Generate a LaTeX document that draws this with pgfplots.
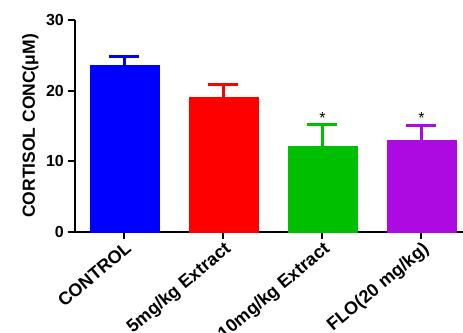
\documentclass[border=0pt]{standalone}
\usepackage{pgfplots}
\pgfplotsset{compat=1.18}
\usepackage{fontspec}
\setmainfont{Liberation Sans}
\definecolor{cblue}{RGB}{0,0,255}
\definecolor{cred}{RGB}{255,0,0}
\definecolor{cgreen}{RGB}{0,190,0}
\definecolor{cpurple}{RGB}{172,10,224}
\begin{document}
\begin{tikzpicture}
\begin{axis}[
 at={(0,0)}, anchor=south west,
 scale only axis, width=388pt, height=212pt,
 xmin=-0.5, xmax=3.42, ymin=0, ymax=30,
 axis x line*=bottom, axis y line*=left,
 axis line style={line width=2.2pt},
 ytick={0,10,20,30},
 xtick={0,1,2,3},
 xticklabels={CONTROL, 5mg/kg Extract, 10mg/kg Extract, FLO(20 mg/kg)},
 x tick label style={rotate=40, anchor=north east, font=\fontsize{18}{18}\selectfont\bfseries, inner sep=1pt},
 y tick label style={font=\fontsize{16}{16}\selectfont\bfseries, inner sep=4pt},
 /pgf/number format/assume math mode=true,
 tick style={line width=2pt, black},
 tick align=outside, major tick length=7pt,
 ylabel={CORTISOL CONC(μM)},
 ylabel style={font=\fontsize{17.5}{17.5}\selectfont\bfseries},
 clip=false,
]
\addplot[ybar, bar width=69pt, bar shift=0pt, fill=cblue, draw=cblue,
  error bars/.cd, y dir=plus, y explicit,
  error bar style={line width=3pt, cblue},
  error mark options={line width=3pt, mark size=15pt, cblue, rotate=90}]
  coordinates {(0,23.6) +- (0,1.3)};
\addplot[ybar, bar width=69pt, bar shift=0pt, fill=cred, draw=cred,
  error bars/.cd, y dir=plus, y explicit,
  error bar style={line width=3pt, cred},
  error mark options={line width=3pt, mark size=15pt, cred, rotate=90}]
  coordinates {(1,19.1) +- (0,1.8)};
\addplot[ybar, bar width=69pt, bar shift=0pt, fill=cgreen, draw=cgreen,
  error bars/.cd, y dir=plus, y explicit,
  error bar style={line width=3pt, cgreen},
  error mark options={line width=3pt, mark size=15pt, cgreen, rotate=90}]
  coordinates {(2,12.2) +- (0,3.0)};
\addplot[ybar, bar width=69pt, bar shift=0pt, fill=cpurple, draw=cpurple,
  error bars/.cd, y dir=plus, y explicit,
  error bar style={line width=3pt, cpurple},
  error mark options={line width=3pt, mark size=15pt, cpurple, rotate=90}]
  coordinates {(3,13.0) +- (0,2.1)};
\node[anchor=south, inner sep=0.5pt, font=\fontsize{16}{16}\selectfont] at (axis cs:2,15.3) {*};
\node[anchor=south, inner sep=0.5pt, font=\fontsize{16}{16}\selectfont] at (axis cs:3,15.2) {*};
\end{axis}
\pgfresetboundingbox
\useasboundingbox (-75pt,-100pt) rectangle (388pt,232pt);
\end{tikzpicture}
\end{document}
